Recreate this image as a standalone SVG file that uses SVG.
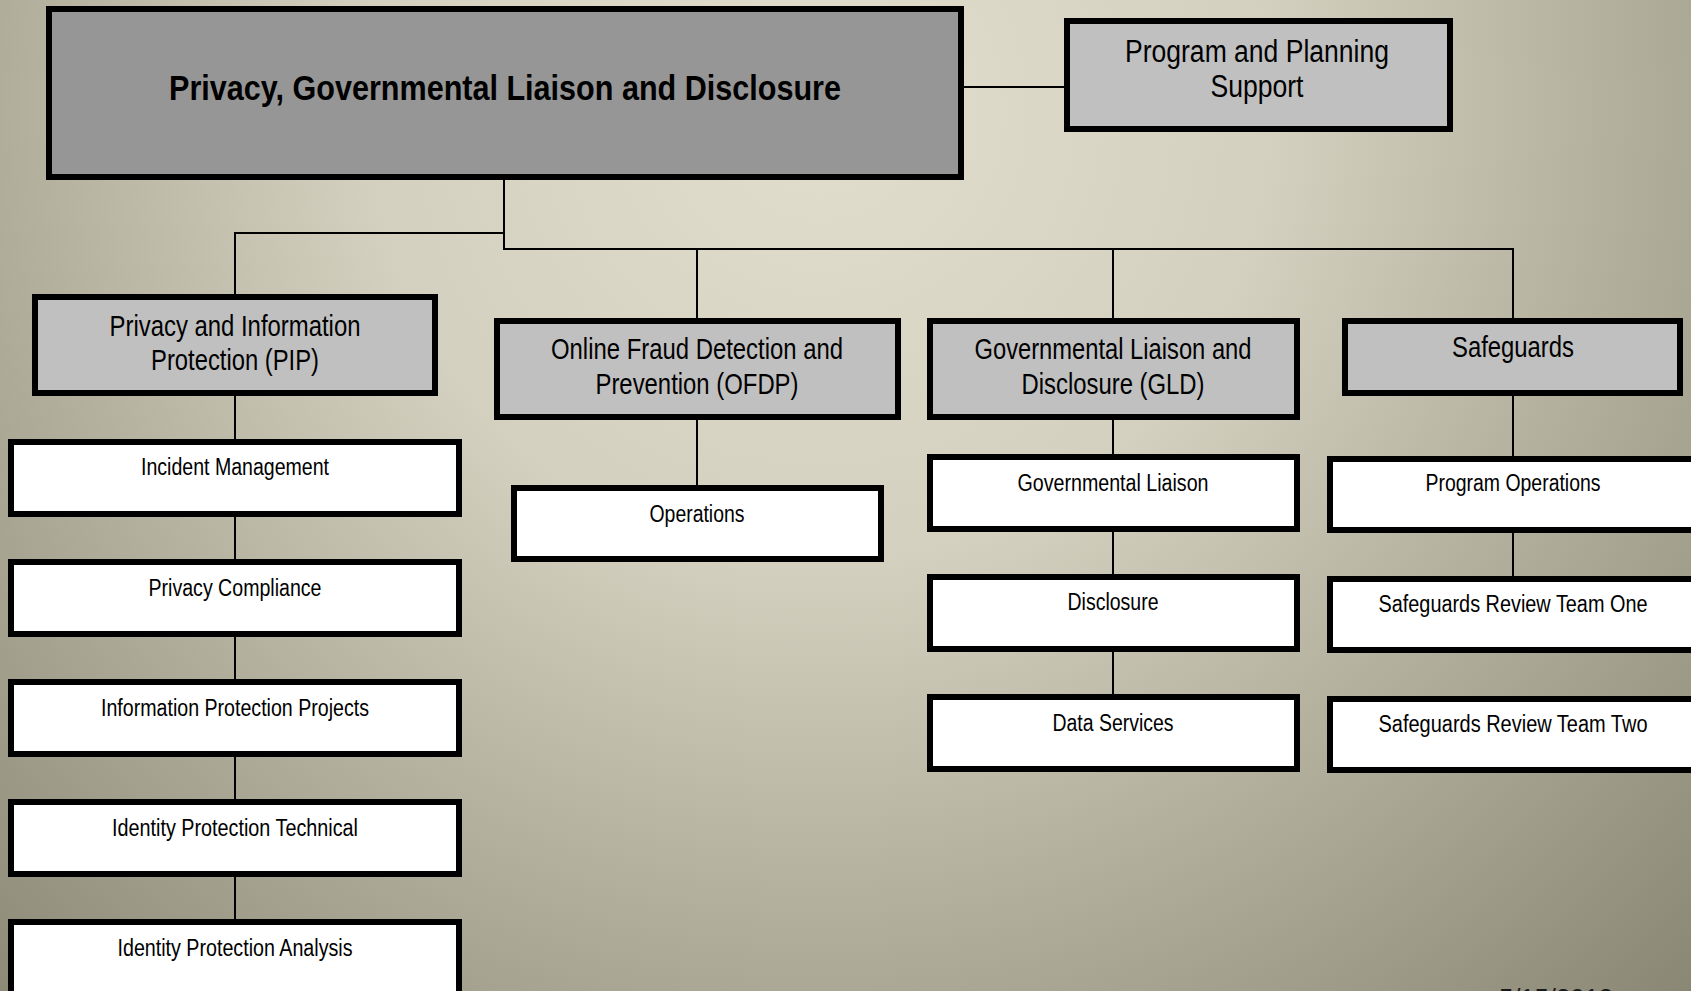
<svg xmlns="http://www.w3.org/2000/svg" width="1691" height="991" viewBox="0 0 1691 991">
<defs>
<radialGradient id="bg" gradientUnits="userSpaceOnUse" cx="820" cy="110" r="1300">
<stop offset="0" stop-color="#e1dece"/>
<stop offset="0.35" stop-color="#d3d0bf"/>
<stop offset="0.6" stop-color="#b4b19f"/>
<stop offset="1" stop-color="#84816e"/>
</radialGradient>
<style>
.dark{fill:#969696;stroke:#000;stroke-width:6}
.mid{fill:#c0c0c0;stroke:#000;stroke-width:6}
.white{fill:#fff;stroke:#000;stroke-width:6}
.conn{stroke:#000;stroke-width:2;fill:none}
text{font-family:"Liberation Sans",Arial,sans-serif;fill:#000;text-anchor:middle}
.title{font-size:35px;font-weight:bold}
.big{font-size:29px}
.pps{font-size:31px}
.small{font-size:23.5px}
.date{font-size:26px;fill:#1a1a1a}
</style>
</defs>
<rect x="0" y="0" width="1691" height="991" fill="url(#bg)"/>

<g id="connectors" class="conn">
<line x1="964" y1="87" x2="1064" y2="87"/>
<line x1="504" y1="180" x2="504" y2="249"/>
<line x1="234" y1="233" x2="505" y2="233"/>
<line x1="235" y1="232" x2="235" y2="294"/>
<line x1="503" y1="249" x2="1514" y2="249"/>
<line x1="697" y1="249" x2="697" y2="318"/>
<line x1="1113" y1="249" x2="1113" y2="318"/>
<line x1="1513" y1="248" x2="1513" y2="318"/>
<line x1="235" y1="396" x2="235" y2="439"/>
<line x1="235" y1="517" x2="235" y2="559"/>
<line x1="235" y1="637" x2="235" y2="679"/>
<line x1="235" y1="757" x2="235" y2="799"/>
<line x1="235" y1="877" x2="235" y2="919"/>
<line x1="697" y1="420" x2="697" y2="485"/>
<line x1="1113" y1="420" x2="1113" y2="454"/>
<line x1="1113" y1="532" x2="1113" y2="574"/>
<line x1="1113" y1="652" x2="1113" y2="694"/>
<line x1="1513" y1="396" x2="1513" y2="456"/>
<line x1="1513" y1="533" x2="1513" y2="576"/>
</g>

<g id="n-top">
<rect class="dark" x="49" y="9" width="912" height="168"/>
<text class="title" x="505" y="100" textLength="672" lengthAdjust="spacingAndGlyphs">Privacy, Governmental Liaison and Disclosure</text>
</g>

<g id="n-pps">
<rect class="mid" x="1067" y="21" width="383" height="108"/>
<text class="pps" x="1257" y="62" textLength="264" lengthAdjust="spacingAndGlyphs">Program and Planning</text>
<text class="pps" x="1257" y="97" textLength="93" lengthAdjust="spacingAndGlyphs">Support</text>
</g>

<g id="n-pip">
<rect class="mid" x="35" y="297" width="400" height="96"/>
<text class="big" x="235" y="336" textLength="251" lengthAdjust="spacingAndGlyphs">Privacy and Information</text>
<text class="big" x="235" y="370" textLength="168" lengthAdjust="spacingAndGlyphs">Protection (PIP)</text>
</g>

<g id="n-ofdp">
<rect class="mid" x="497" y="321" width="401" height="96"/>
<text class="big" x="697" y="359" textLength="292" lengthAdjust="spacingAndGlyphs">Online Fraud Detection and</text>
<text class="big" x="697" y="394" textLength="203" lengthAdjust="spacingAndGlyphs">Prevention (OFDP)</text>
</g>

<g id="n-gld">
<rect class="mid" x="930" y="321" width="367" height="96"/>
<text class="big" x="1113" y="359" textLength="277" lengthAdjust="spacingAndGlyphs">Governmental Liaison and</text>
<text class="big" x="1113" y="394" textLength="183" lengthAdjust="spacingAndGlyphs">Disclosure (GLD)</text>
</g>

<g id="n-safeguards">
<rect class="mid" x="1345" y="321" width="335" height="72"/>
<text class="big" x="1513" y="357" textLength="122" lengthAdjust="spacingAndGlyphs">Safeguards</text>
</g>

<g id="n-incident">
<rect class="white" x="11" y="442" width="448" height="72"/>
<text class="small" x="235" y="475" textLength="188" lengthAdjust="spacingAndGlyphs">Incident Management</text>
</g>
<g id="n-privcomp">
<rect class="white" x="11" y="562" width="448" height="72"/>
<text class="small" x="235" y="596" textLength="173" lengthAdjust="spacingAndGlyphs">Privacy Compliance</text>
</g>
<g id="n-infoproj">
<rect class="white" x="11" y="682" width="448" height="72"/>
<text class="small" x="235" y="716" textLength="268" lengthAdjust="spacingAndGlyphs">Information Protection Projects</text>
</g>
<g id="n-idtech">
<rect class="white" x="11" y="802" width="448" height="72"/>
<text class="small" x="235" y="836" textLength="246" lengthAdjust="spacingAndGlyphs">Identity Protection Technical</text>
</g>
<g id="n-idanalysis">
<rect class="white" x="11" y="922" width="448" height="72"/>
<text class="small" x="235" y="956" textLength="235" lengthAdjust="spacingAndGlyphs">Identity Protection Analysis</text>
</g>

<g id="n-operations">
<rect class="white" x="514" y="488" width="367" height="71"/>
<text class="small" x="697" y="522" textLength="95" lengthAdjust="spacingAndGlyphs">Operations</text>
</g>

<g id="n-govliaison">
<rect class="white" x="930" y="457" width="367" height="72"/>
<text class="small" x="1113" y="491" textLength="191" lengthAdjust="spacingAndGlyphs">Governmental Liaison</text>
</g>
<g id="n-disclosure">
<rect class="white" x="930" y="577" width="367" height="72"/>
<text class="small" x="1113" y="610" textLength="91" lengthAdjust="spacingAndGlyphs">Disclosure</text>
</g>
<g id="n-dataservices">
<rect class="white" x="930" y="697" width="367" height="72"/>
<text class="small" x="1113" y="731" textLength="121" lengthAdjust="spacingAndGlyphs">Data Services</text>
</g>

<g id="n-progops">
<rect class="white" x="1330" y="459" width="366" height="71"/>
<text class="small" x="1513" y="491" textLength="175" lengthAdjust="spacingAndGlyphs">Program Operations</text>
</g>
<g id="n-team1">
<rect class="white" x="1330" y="579" width="366" height="71"/>
<text class="small" x="1513" y="612" textLength="269" lengthAdjust="spacingAndGlyphs">Safeguards Review Team One</text>
</g>
<g id="n-team2">
<rect class="white" x="1330" y="699" width="366" height="71"/>
<text class="small" x="1513" y="732" textLength="269" lengthAdjust="spacingAndGlyphs">Safeguards Review Team Two</text>
</g>

<text class="date" x="1556" y="1007" textLength="114" lengthAdjust="spacingAndGlyphs">5/15/2013</text>
</svg>
